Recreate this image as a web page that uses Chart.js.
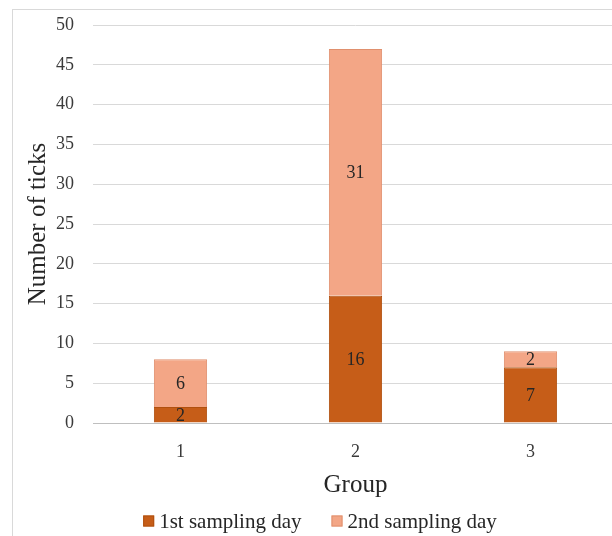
<!DOCTYPE html>
<html>
<head>
<meta charset="utf-8">
<script src="https://cdn.jsdelivr.net/npm/chart.js@4/dist/chart.umd.min.js"></script>
<style>
  html, body { margin: 0; padding: 0; background: #fff; overflow: hidden; }
  #wrap { position: relative; width: 612px; height: 536px; overflow: hidden; }
  #frame { position: absolute; left: 12px; top: 9px; width: 640px; height: 560px; border: 1px solid #d9d9d9; box-sizing: border-box; }
  #c { position: absolute; left: 0; top: 0; }
</style>
</head>
<body>
<div id="wrap">
  <div id="frame"></div>
  <canvas id="c" width="640" height="536"></canvas>
</div>
<script>
// Tick counts per group on two sampling days
const groups = ['1', '2', '3'];
const firstDay = [2, 16, 7];
const secondDay = [6, 31, 2];
const yTicks = [0, 5, 10, 15, 20, 25, 30, 35, 40, 45, 50];

const SERIF = '"Liberation Serif", "DejaVu Serif", serif';

// Writes each segment's value in the middle of its bar
const segmentLabels = {
  id: 'segmentLabels',
  afterDatasetsDraw(chart) {
    const ctx = chart.ctx;
    ctx.save();
    ctx.font = '18px ' + SERIF;
    ctx.fillStyle = '#262626';
    ctx.textAlign = 'center';
    ctx.textBaseline = 'middle';
    chart.data.datasets.forEach((ds, i) => {
      chart.getDatasetMeta(i).data.forEach((bar, j) => {
        const mid = (bar.y + bar.base) / 2;
        ctx.fillText(String(ds.data[j]), bar.x, mid + 1);
      });
    });
    ctx.restore();
  }
};

// Compact legend row under the axis title: small square, short gap, label
const bottomLegend = {
  id: 'bottomLegend',
  afterDraw(chart) {
    const ctx = chart.ctx;
    const box = 11, gap = 5, spacing = 30;
    ctx.save();
    ctx.font = '21px ' + SERIF;
    ctx.textBaseline = 'middle';
    ctx.textAlign = 'left';
    const items = chart.data.datasets.map(ds => ({
      text: ds.label,
      fill: ds.backgroundColor,
      stroke: ds.borderColor,
      w: box + gap + ctx.measureText(ds.label).width
    }));
    const total = items.reduce((s, it) => s + it.w, 0) + spacing * (items.length - 1);
    let x = chart.width / 2 - total / 2;
    const y = chart.height - 15;
    items.forEach(it => {
      ctx.fillStyle = it.fill;
      ctx.fillRect(x, y - box / 2, box, box);
      ctx.strokeStyle = it.stroke;
      ctx.lineWidth = 1;
      ctx.strokeRect(x + 0.5, y - box / 2 + 0.5, box - 1, box - 1);
      ctx.fillStyle = '#262626';
      ctx.fillText(it.text, x + box + gap, y + 1);
      x += it.w + spacing;
    });
    ctx.restore();
  }
};

new Chart(document.getElementById('c'), {
  type: 'bar',
  data: {
    labels: groups,
    datasets: [
      {
        label: '1st sampling day',
        data: firstDay,
        backgroundColor: '#C65D18',
        borderColor: '#B0500F',
        borderWidth: 1
      },
      {
        label: '2nd sampling day',
        data: secondDay,
        backgroundColor: '#F3A686',
        borderColor: '#E0906E',
        borderWidth: 1
      }
    ]
  },
  plugins: [segmentLabels, bottomLegend],
  options: {
    responsive: false,
    animation: false,
    layout: { padding: { left: 0, right: 22, top: 25, bottom: 36 } },
    datasets: {
      bar: { barPercentage: 1, categoryPercentage: 0.304 }
    },
    plugins: {
      legend: { display: false },
      tooltip: { enabled: false }
    },
    scales: {
      x: {
        stacked: true,
        grid: { display: false },
        border: { display: true, color: '#bfbfbf' },
        ticks: {
          font: { family: SERIF, size: 18 },
          color: '#3a3a3a',
          padding: 10
        },
        title: {
          display: true,
          text: 'Group',
          font: { family: SERIF, size: 25 },
          color: '#262626',
          padding: { top: 8, bottom: 0 }
        },
        afterFit(s) { s.height = 77; }
      },
      y: {
        stacked: true,
        min: 0,
        max: 50,
        afterBuildTicks(s) { s.ticks = yTicks.map(v => ({ value: v })); },
        grid: { color: '#d9d9d9', drawTicks: false },
        border: { display: false },
        ticks: {
          font: { family: SERIF, size: 18 },
          color: '#3a3a3a',
          padding: 19
        },
        title: {
          display: true,
          text: 'Number of ticks',
          font: { family: SERIF, size: 25 },
          color: '#262626',
          padding: { top: 23, bottom: 0 }
        },
        afterFit(s) {
          s.width = 93;
          s.paddingTop = 0;
          s.paddingBottom = 0;
        }
      }
    }
  }
});
</script>
</body>
</html>
